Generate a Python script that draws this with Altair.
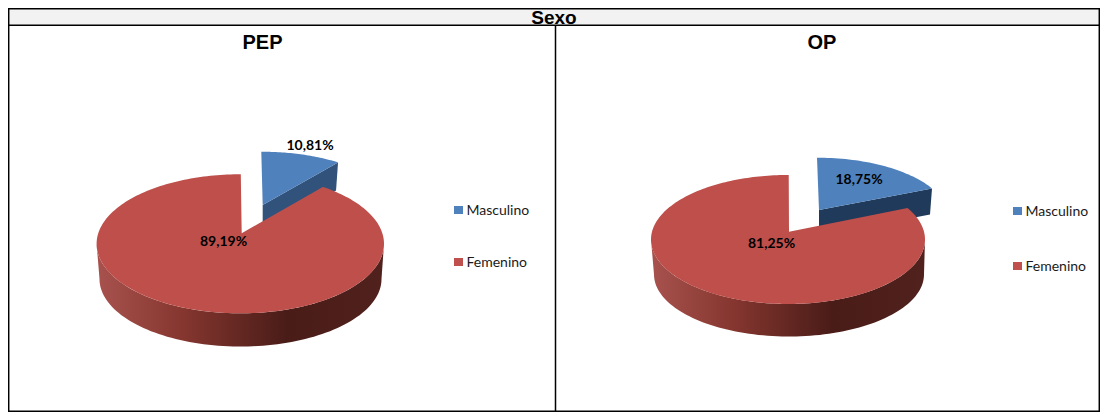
import numpy as np
import pandas as pd
import altair as alt

# ---- values
panel_titles = ["PEP", "OP"]
categories = ["Masculino", "Femenino"]
pep_values = [10.81, 89.19]
op_values = [18.75, 81.25]
value_labels_pep = ["10,81%", "89,19%"]
value_labels_op = ["18,75%", "81,25%"]
main_title = "Sexo"

BLUE, RED = "#4F81BD", "#C0504D"
TOP_RED, TOP_BLUE = "#BE4F4B", "#4F81BD"

RIGHT, BOTTOM = 1100, 412
xs = alt.Scale(domain=[8, RIGHT], range=[0, RIGHT - 8], nice=False, zero=False)
ys = alt.Scale(domain=[8, BOTTOM], range=[0, BOTTOM - 8], nice=False, zero=False)
X = alt.X("x:Q", scale=xs, axis=None)
Y = alt.Y("y:Q", scale=ys, axis=None)


def ell(c, t):
    t = np.radians(t)
    return c[0] + c[2] * np.sin(t), c[1] - c[3] * np.cos(t)


def poly(xv, yv, fill):
    df = pd.DataFrame({"x": xv, "y": yv, "i": np.arange(len(xv))})
    return alt.Chart(df).mark_line(fill=fill, stroke=None, interpolate="linear-closed", strokeWidth=0).encode(
        x=X, y=Y, order="i:Q")


def pie(values, top, low, apex, end, btop, bapex, bdepth, bdark, side_stops):
    cut = values[0] * 3.6 * 0.9
    layers = []
    bt = np.linspace(0, cut, 40)
    bx, by = ell(btop, bt)
    layers.append(poly([bapex[0], bx[-1], bx[-1] - 2, bapex[0]],
                       [bapex[1], by[-1], by[-1] + bdepth, bapex[1] + bdepth], bdark))
    layers.append(poly([bapex[0], *bx], [bapex[1], *by], TOP_BLUE))
    t = np.linspace(90, 270, 90)
    ux, uy = ell(top, t)
    lx, ly = ell(low, t)
    grad = alt.Gradient(gradient="linear", x1=0, x2=1, y1=0, y2=0,
                        stops=[alt.GradientStop(offset=o, color=c) for o, c in side_stops])
    layers.append(poly([*ux, *lx[::-1]], [*uy, *ly[::-1]], grad))
    t = np.linspace(cut, end, 240)
    rx, ry = ell(top, t)
    layers.append(poly([apex[0], *rx], [apex[1], *ry], TOP_RED))
    return layers


stops = [(0, "#A8524E"), (0.3, "#85362F"), (0.66, "#4A1C18"), (1, "#50211D")]
left = pie(pep_values, (240.3, 243.8, 143.7, 69.5), (240.5, 279, 141, 67.5), (241.7, 233.3), 360.2,
           (261.3, 210.7, 133.7, 59), (262.7, 205), 28, "#30527B", stops)
right = pie(op_values, (788, 239.5, 137, 64.5), (789, 274.5, 135, 62), (789, 231.7), 360.3,
            (817, 217.7, 131.8, 60), (819, 210), 26, "#1F3A5A", stops)

header = alt.Chart(pd.DataFrame({"x": [8], "x2": [RIGHT], "y": [8], "y2": [25]})).mark_rect(color="#F2F2F2").encode(
    x=X, x2="x2:Q", y=Y, y2="y2:Q")
rules = pd.DataFrame({
    "x":  [8.7, RIGHT - 0.7, 555.5, 8, 8, 8],
    "x2": [8.7, RIGHT - 0.7, 555.5, RIGHT, RIGHT, RIGHT],
    "y":  [8, 8, 25, 8.7, 25.3, BOTTOM - 0.7],
    "y2": [BOTTOM, BOTTOM, BOTTOM, 8.7, 25.3, BOTTOM - 0.7],
})
frame = alt.Chart(rules).mark_rule(color="black", strokeWidth=1.5).encode(x=X, x2="x2:Q", y=Y, y2="y2:Q")


def text(x, y, s, font, size, bold=False, align="center", color="black"):
    return alt.Chart(pd.DataFrame({"x": [x], "y": [y], "t": [s]})).mark_text(
        font=font, fontSize=size, fontWeight="bold" if bold else "normal", align=align,
        baseline="alphabetic", color=color).encode(x=X, y=Y, text="t:N")


ar, lb = "Liberation Sans", "Lato"
texts = [
    text(554, 24, main_title, ar, 19, True),
    text(262.5, 49, panel_titles[0], ar, 20, True),
    text(822, 49, panel_titles[1], ar, 20, True),
    text(310, 150, value_labels_pep[0], lb, 14, True),
    text(223.5, 246, value_labels_pep[1], lb, 14, True),
    text(859, 184, value_labels_op[0], lb, 14, True),
    text(771.5, 248, value_labels_op[1], lb, 14, True),
]

leg_rows = []
for lx, ty, labels in [(454, [206, 258], categories), (1013, [207, 262], categories)]:
    for yy, lab, col in zip(ty, labels, [BLUE, RED]):
        leg_rows.append({"x": lx, "x2": lx + 9, "y": yy, "y2": yy + 8, "c": col})
        texts.append(text(lx + 12.5, yy + 8.5, lab, lb, 14, False, "left", "#1a1a1a"))
legend = alt.Chart(pd.DataFrame(leg_rows)).mark_rect().encode(
    x=X, x2="x2:Q", y=Y, y2="y2:Q", color=alt.Color("c:N", scale=None, legend=None))

chart = alt.layer(header, *left, *right, frame, legend, *texts).properties(
    width=RIGHT - 8, height=BOTTOM - 8, padding=0, background="white",
    autosize=alt.AutoSizeParams(type="none"),
).configure_view(stroke=None)

chart.save("out.html", embed_options={"renderer": "svg", "actions": False})
